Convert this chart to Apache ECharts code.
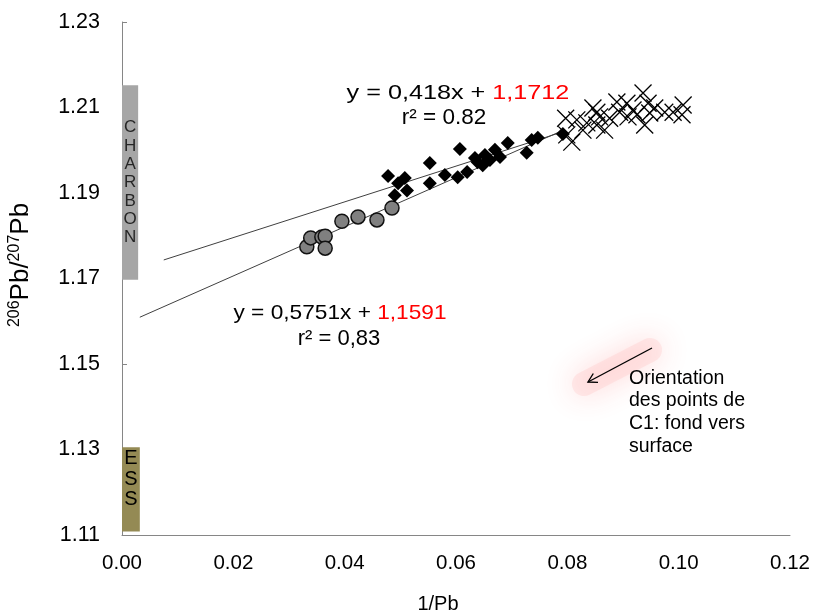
<!DOCTYPE html>
<html>
<head>
<meta charset="utf-8">
<script src="https://cdn.jsdelivr.net/npm/echarts@6/dist/echarts.min.js"></script>
<style>
html,body{margin:0;padding:0;background:#fff;}
#chart{width:820px;height:615px;}
</style>
</head>
<body>
<div id="chart"></div>
<script>
// ---- data ----
const xTickLabels = [0.00, 0.02, 0.04, 0.06, 0.08, 0.10, 0.12];
const yTickLabels = [1.11, 1.13, 1.15, 1.17, 1.19, 1.21, 1.23];

// grey circles
const circlesX = [0.0332, 0.0339, 0.0359, 0.0365, 0.0365, 0.0395, 0.0424, 0.0458, 0.0485];
const circlesY = [1.1774, 1.1795, 1.1797, 1.1799, 1.1771, 1.1834, 1.1844, 1.1837, 1.1865];

// black diamonds
const diamondsX = [0.0478, 0.0508, 0.0496, 0.0512, 0.0490, 0.0553, 0.0553, 0.0580, 0.0603, 0.0607, 0.0620, 0.0634,
                   0.0652, 0.0648, 0.0670, 0.0679, 0.0693, 0.0727, 0.0736, 0.0747, 0.0792, 0.0639, 0.0661];
const diamondsY = [1.1940, 1.1935, 1.1923, 1.1906, 1.1895, 1.1970, 1.1923, 1.1942, 1.1937, 1.2003, 1.1949, 1.1982,
                   1.1989, 1.1965, 1.2001, 1.1984, 1.2017, 1.1994, 1.2024, 1.2029, 1.2038, 1.1972, 1.1977];

// crosses
const crossesX = [0.0797, 0.0817, 0.0799, 0.0808, 0.0828, 0.0835, 0.0846, 0.0853, 0.0858, 0.0853, 0.0867, 0.0876,
                  0.0889, 0.0894, 0.0907, 0.0909, 0.0918, 0.0925, 0.0936, 0.0945, 0.0939, 0.0948, 0.0957, 0.0975,
                  0.0990, 0.1008, 0.1006];
const crossesY = [1.2075, 1.2071, 1.2036, 1.2019, 1.2047, 1.2064, 1.2099, 1.2089, 1.2078, 1.2059, 1.2047, 1.2075,
                  1.2113, 1.2089, 1.2110, 1.2078, 1.2094, 1.2083, 1.2134, 1.2110, 1.2059, 1.2087, 1.2099, 1.2089,
                  1.2089, 1.2106, 1.2083];

// trend lines (end points)
const trendUpperX = [0.0075, 0.0792];
const trendUpperY = [1.17434, 1.20431];
const trendLowerX = [0.0032, 0.0792];
const trendLowerY = [1.16094, 1.20465];

// bands
const charbonX = [0, 0.0029];
const charbonY = [1.1697, 1.2152];
const essX = [0, 0.0032];
const essY = [1.1108, 1.1305];

// texts
const eqUpper = ['y = 0,418x + ', '1,1712'];
const r2Upper = 'r² = 0.82';
const eqLower = ['y = 0,5751x + ', '1,1591'];
const r2Lower = 'r² = 0,83';
const noteLines = ['Orientation', 'des points de', 'C1: fond vers', 'surface'];
const xTitle = '1/Pb';

const zip = (a, b) => a.map((v, i) => [v, b[i]]);
const FONT = '"Liberation Sans", Arial, sans-serif';

const chart = echarts.init(document.getElementById('chart'), null, {renderer: 'canvas'});

const eqRich = {
  b: {fontFamily: FONT, fontSize: 21, fill: '#000'},
  r: {fontFamily: FONT, fontSize: 21, fill: '#ff0000'}
};

const option = {
  animation: false,
  backgroundColor: '#fff',
  grid: {left: 122, right: 30, top: 22, bottom: 80, containLabel: false, outerBoundsMode: 'none'},
  xAxis: {
    type: 'value', min: 0, max: 0.12, interval: 0.02,
    axisLine: {show: true, lineStyle: {color: '#868686', width: 1}},
    axisTick: {show: false},
    axisLabel: {fontFamily: FONT, fontSize: 20.5, color: '#000', margin: 18,
      formatter: v => v.toFixed(2), customValues: xTickLabels},
    splitLine: {show: false}
  },
  yAxis: {
    type: 'value', min: 1.11, max: 1.23, interval: 0.02,
    axisLine: {show: true, onZero: false, lineStyle: {color: '#868686', width: 1}},
    axisTick: {show: true, inside: true, length: 5, lineStyle: {color: '#868686'}, customValues: yTickLabels},
    axisLabel: {fontFamily: FONT, fontSize: 21.5, color: '#000', margin: 22,
      formatter: v => v.toFixed(2), customValues: yTickLabels},
    splitLine: {show: false}
  },
  series: [
    {
      type: 'scatter', name: 'bands', data: [], silent: true,
      markArea: {
        silent: true,
        data: [
          [{coord: [charbonX[0], charbonY[1]], itemStyle: {color: '#a6a6a6'},
            label: {show: true, position: 'inside', formatter: 'C\nH\nA\nR\nB\nO\nN',
              fontFamily: FONT, fontSize: 17, lineHeight: 18.3, color: '#262626'}},
           {coord: [charbonX[1], charbonY[0]]}],
          [{coord: [essX[0], essY[1]], itemStyle: {color: '#948a54'},
            label: {show: true, position: 'insideTop', distance: 1, formatter: 'E\nS\nS',
              fontFamily: FONT, fontSize: 20, lineHeight: 20.5, color: '#000'}},
           {coord: [essX[1], essY[0]]}]
        ]
      }
    },
    {
      type: 'line', name: 'trendUpper', data: zip(trendUpperX, trendUpperY), symbol: 'none',
      lineStyle: {color: '#404040', width: 1}, z: 1
    },
    {
      type: 'line', name: 'trendLower', data: zip(trendLowerX, trendLowerY), symbol: 'none',
      lineStyle: {color: '#404040', width: 1}, z: 1
    },
    {
      type: 'scatter', name: 'circles', data: zip(circlesX, circlesY), symbol: 'circle', symbolSize: 14,
      itemStyle: {color: '#808080', borderColor: '#111', borderWidth: 1.5, opacity: 1}, z: 3
    },
    {
      type: 'scatter', name: 'diamonds', data: zip(diamondsX, diamondsY), symbol: 'diamond', symbolSize: 14,
      itemStyle: {color: '#000', opacity: 1}, z: 4
    },
    {
      type: 'scatter', name: 'crosses', data: zip(crossesX, crossesY),
      symbol: 'path://M0,0L10,10M10,0L0,10', symbolSize: 17,
      itemStyle: {color: 'rgba(0,0,0,0)', borderColor: '#000', borderWidth: 1.3, opacity: 1}, z: 5
    }
  ],
  graphic: [
    // x axis title
    {type: 'text', x: 438, y: 604,
      style: {text: xTitle, align: 'center', verticalAlign: 'middle', fontFamily: FONT, fontSize: 20, fill: '#000'}},
    // y axis title
    {type: 'text', x: 20, y: 265, rotation: Math.PI / 2,
      style: {text: '{s|206}{n|Pb/}{s|207}{n|Pb}', align: 'center', verticalAlign: 'middle',
        rich: {
          s: {fontFamily: FONT, fontSize: 16, verticalAlign: 'top', lineHeight: 27, fill: '#000'},
          n: {fontFamily: FONT, fontSize: 26, verticalAlign: 'bottom', lineHeight: 27, fill: '#000'}
        }}},
    // upper equation
    {type: 'text', x: 458, y: 93, scaleX: 1.2,
      style: {text: '{b|' + eqUpper[0] + '}{r|' + eqUpper[1] + '}', align: 'center', verticalAlign: 'middle', rich: eqRich}},
    {type: 'text', x: 444, y: 118,
      style: {text: r2Upper, align: 'center', verticalAlign: 'middle', fontFamily: FONT, fontSize: 22.5, fill: '#000'}},
    // lower equation
    {type: 'text', x: 340, y: 313, scaleX: 1.08,
      style: {text: '{b|' + eqLower[0] + '}{r|' + eqLower[1] + '}', align: 'center', verticalAlign: 'middle', rich: eqRich}},
    {type: 'text', x: 339, y: 339,
      style: {text: r2Lower, align: 'center', verticalAlign: 'middle', fontFamily: FONT, fontSize: 22, fill: '#000'}},
    // arrow glow
    {type: 'line', shape: {x1: 650, y1: 350, x2: 584, y2: 384},
      style: {stroke: 'rgba(255,170,170,0.2)', lineWidth: 24, lineCap: 'round',
        shadowBlur: 30, shadowColor: 'rgba(255,60,60,0.95)'}},
    // arrow
    {type: 'line', shape: {x1: 652, y1: 348, x2: 588, y2: 382},
      style: {stroke: '#000', lineWidth: 1.4}},
    {type: 'polyline', shape: {points: [[598, 382.4], [588, 382], [593.3, 373.5]]},
      style: {stroke: '#000', lineWidth: 1.4, fill: null}},
    // note
    {type: 'text', x: 629, y: 367,
      style: {text: noteLines.join('\n'), align: 'left', verticalAlign: 'top', fontFamily: FONT,
        fontSize: 19.5, lineHeight: 22.7, fill: '#000'}}
  ]
};
chart.setOption(option);
</script>
</body>
</html>
